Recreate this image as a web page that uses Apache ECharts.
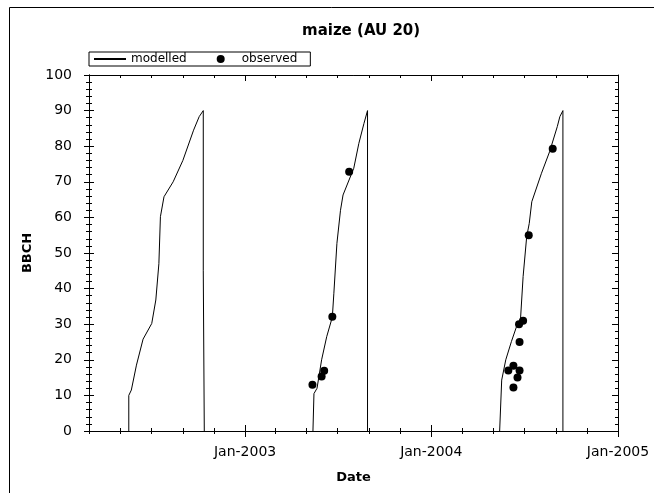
<!DOCTYPE html>
<html><head><meta charset="utf-8">
<script src="https://cdn.jsdelivr.net/npm/echarts@6/dist/echarts.min.js"></script>
<style>html,body{margin:0;padding:0;background:#fff}#c{width:654px;height:493px}</style>
</head><body><div id="c"></div>
<script>
const chartTitle = 'maize (AU 20)';
const xName = 'Date';
const yName = 'BBCH';
const seriesNames = ['modelled', 'observed'];

const modelled2002 = [
  ['2002-05-18', 0], ['2002-05-18', 10], ['2002-05-23', 11.5], ['2002-06-02', 18.5],
  ['2002-06-15', 25.8], ['2002-07-02', 30.2], ['2002-07-10', 36.8], ['2002-07-16', 47],
  ['2002-07-19', 60.2], ['2002-07-26', 65.8], ['2002-08-13', 70], ['2002-09-01', 76],
  ['2002-09-22', 84.5], ['2002-10-03', 88.3], ['2002-10-11', 90], ['2002-10-11', 45],
  ['2002-10-13', 45], ['2002-10-13', 0]
];
const modelled2003 = [
  ['2003-05-14', 0], ['2003-05-16', 10.5], ['2003-05-22', 12], ['2003-05-31', 20],
  ['2003-06-10', 26.5], ['2003-06-21', 32], ['2003-06-24', 38.7], ['2003-06-30', 52.7],
  ['2003-07-07', 62], ['2003-07-12', 66.3], ['2003-08-02', 73.8], ['2003-08-12', 80.8],
  ['2003-08-22', 86.4], ['2003-08-29', 90], ['2003-08-29', 0]
];
const modelled2004 = [
  ['2004-05-14', 0], ['2004-05-18', 14.3], ['2004-05-26', 20], ['2004-06-06', 25.1],
  ['2004-06-16', 29.3], ['2004-06-24', 31.7], ['2004-06-29', 43.4], ['2004-07-06', 54.6],
  ['2004-07-11', 58.3], ['2004-07-16', 64.4], ['2004-08-04', 72.4], ['2004-08-20', 78.5],
  ['2004-09-04', 85.5], ['2004-09-09', 88.3], ['2004-09-15', 90], ['2004-09-15', 0]
];
const observedDates = [
  '2003-05-13', '2003-05-31', '2003-06-05', '2003-06-21', '2003-07-24',
  '2004-05-31', '2004-06-10', '2004-06-22', '2004-06-18', '2004-06-10',
  '2004-06-22', '2004-06-21', '2004-06-29', '2004-07-10', '2004-08-26'
];
const observedValues = [
  13, 15.3, 16.9, 32.1, 72.8,
  17, 18.3, 17, 15, 12.2,
  25, 30, 31, 55, 79.3
];

const xStart = '2002-03-01';
const xEnd = '2005-01-01';
const xTickDates = ['2002-03-01', '2002-05-01', '2002-07-01', '2002-09-01', '2002-11-01',
  '2003-01-01', '2003-03-01', '2003-05-01', '2003-07-01', '2003-09-01', '2003-11-01',
  '2004-01-01', '2004-03-01', '2004-05-01', '2004-07-01', '2004-09-01', '2004-11-01', '2005-01-01'];
const xLabelDates = ['2003-01-01', '2004-01-01', '2005-01-01'];
const yMin = 0, yMax = 100, yInterval = 10;

const ts = s => { const p = s.split('-').map(Number); return new Date(p[0], p[1] - 1, p[2]).getTime(); };
const toPts = arr => arr.map(d => [ts(d[0]), d[1]]);
const modelled = [].concat(toPts(modelled2002), [[ts('2002-12-01'), null]], toPts(modelled2003),
  [[ts('2003-12-01'), null]], toPts(modelled2004));
const observed = observedDates.map((d, i) => [ts(d), observedValues[i]]);

const tickVals = xTickDates.map(ts);
const labelVals = xLabelDates.map(ts);
const black = '#000';
const FONT = 'DejaVu Sans';

const baseX = {
  type: 'value', min: ts(xStart), max: ts(xEnd),
  splitLine: { show: false },
  axisLine: { show: true, onZero: false, lineStyle: { color: black, width: 1 } },
  axisLabel: { show: false }
};
const xTick = (vals, len, inside) => ({ show: true, customValues: vals, length: len, inside: inside, lineStyle: { color: black, width: 1 } });

const baseY = {
  type: 'value', min: yMin, max: yMax, interval: yInterval,
  splitLine: { show: false }, minorSplitLine: { show: false },
  axisLine: { show: true, onZero: false, lineStyle: { color: black, width: 1 } },
  axisLabel: { show: false }
};
const yMinor = { show: true, splitNumber: 5, length: 3, lineStyle: { color: black, width: 1 } };

const chart = echarts.init(document.getElementById('c'), null, { renderer: 'canvas' });
chart.setOption({
  animation: false,
  backgroundColor: '#fff',
  title: {
    text: chartTitle, left: 302, top: 24, padding: 0,
    textStyle: { fontFamily: FONT, fontWeight: 'bold', fontSize: 15, color: black }
  },
  legend: {
    left: 89, top: 52, orient: 'horizontal',
    padding: [1, 13, 1, 4], itemGap: 30, itemWidth: 32, itemHeight: 8,
    borderColor: black, borderWidth: 1, borderRadius: 0,
    textStyle: { fontFamily: FONT, fontSize: 12, color: black },
    data: [
      { name: seriesNames[0], itemStyle: { opacity: 0 } },
      { name: seriesNames[1], icon: 'circle' }
    ]
  },
  grid: { left: 89, right: 36, top: 75, bottom: 62, containLabel: false },
  xAxis: [
    Object.assign({}, baseX, {
      position: 'bottom',
      name: xName, nameLocation: 'middle', nameGap: 40,
      nameTextStyle: { fontFamily: FONT, fontWeight: 'bold', fontSize: 13, color: black },
      axisTick: xTick(tickVals, 3, false),
      axisLabel: {
        show: true, customValues: labelVals, margin: 14,
        fontFamily: FONT, fontSize: 14, color: black,
        formatter: v => 'Jan-' + new Date(v).getFullYear()
      }
    }),
    Object.assign({}, baseX, { position: 'bottom', axisTick: xTick(tickVals, 3, true) }),
    Object.assign({}, baseX, { position: 'bottom', axisTick: xTick(labelVals, 6, false) }),
    Object.assign({}, baseX, { position: 'bottom', axisTick: xTick(labelVals, 6, true) }),
    Object.assign({}, baseX, { position: 'top', axisTick: xTick(tickVals, 3, true) }),
    Object.assign({}, baseX, { position: 'top', axisTick: xTick(labelVals, 6, true) })
  ],
  yAxis: [
    Object.assign({}, baseY, {
      position: 'left',
      name: yName, nameLocation: 'middle', nameGap: 48, nameRotate: 90,
      nameTextStyle: { fontFamily: FONT, fontWeight: 'bold', fontSize: 13, color: black },
      axisLabel: { show: true, margin: 17, fontFamily: FONT, fontSize: 14, color: black },
      axisTick: { show: true, length: 5, inside: false, lineStyle: { color: black, width: 1 } },
      minorTick: yMinor
    }),
    Object.assign({}, baseY, {
      position: 'left',
      axisTick: { show: true, length: 5, inside: true, lineStyle: { color: black, width: 1 } },
      minorTick: yMinor
    }),
    Object.assign({}, baseY, {
      position: 'right',
      axisTick: { show: true, length: 6, inside: true, lineStyle: { color: black, width: 1 } },
      minorTick: yMinor
    })
  ],
  series: [
    {
      name: seriesNames[0], type: 'line', data: modelled, xAxisIndex: 0, yAxisIndex: 0,
      symbol: 'none', connectNulls: false,
      lineStyle: { color: black, width: 1 }, itemStyle: { color: black }
    },
    {
      name: seriesNames[1], type: 'scatter', data: observed, xAxisIndex: 0, yAxisIndex: 0,
      symbol: 'circle', symbolSize: 8, itemStyle: { color: black, opacity: 1 }
    }
  ],
  graphic: [{
    type: 'polyline', silent: true,
    shape: { points: [[9.5, 493], [9.5, 7.5], [654, 7.5]] },
    style: { stroke: black, lineWidth: 1, fill: null }
  }]
});
</script>
</body></html>
